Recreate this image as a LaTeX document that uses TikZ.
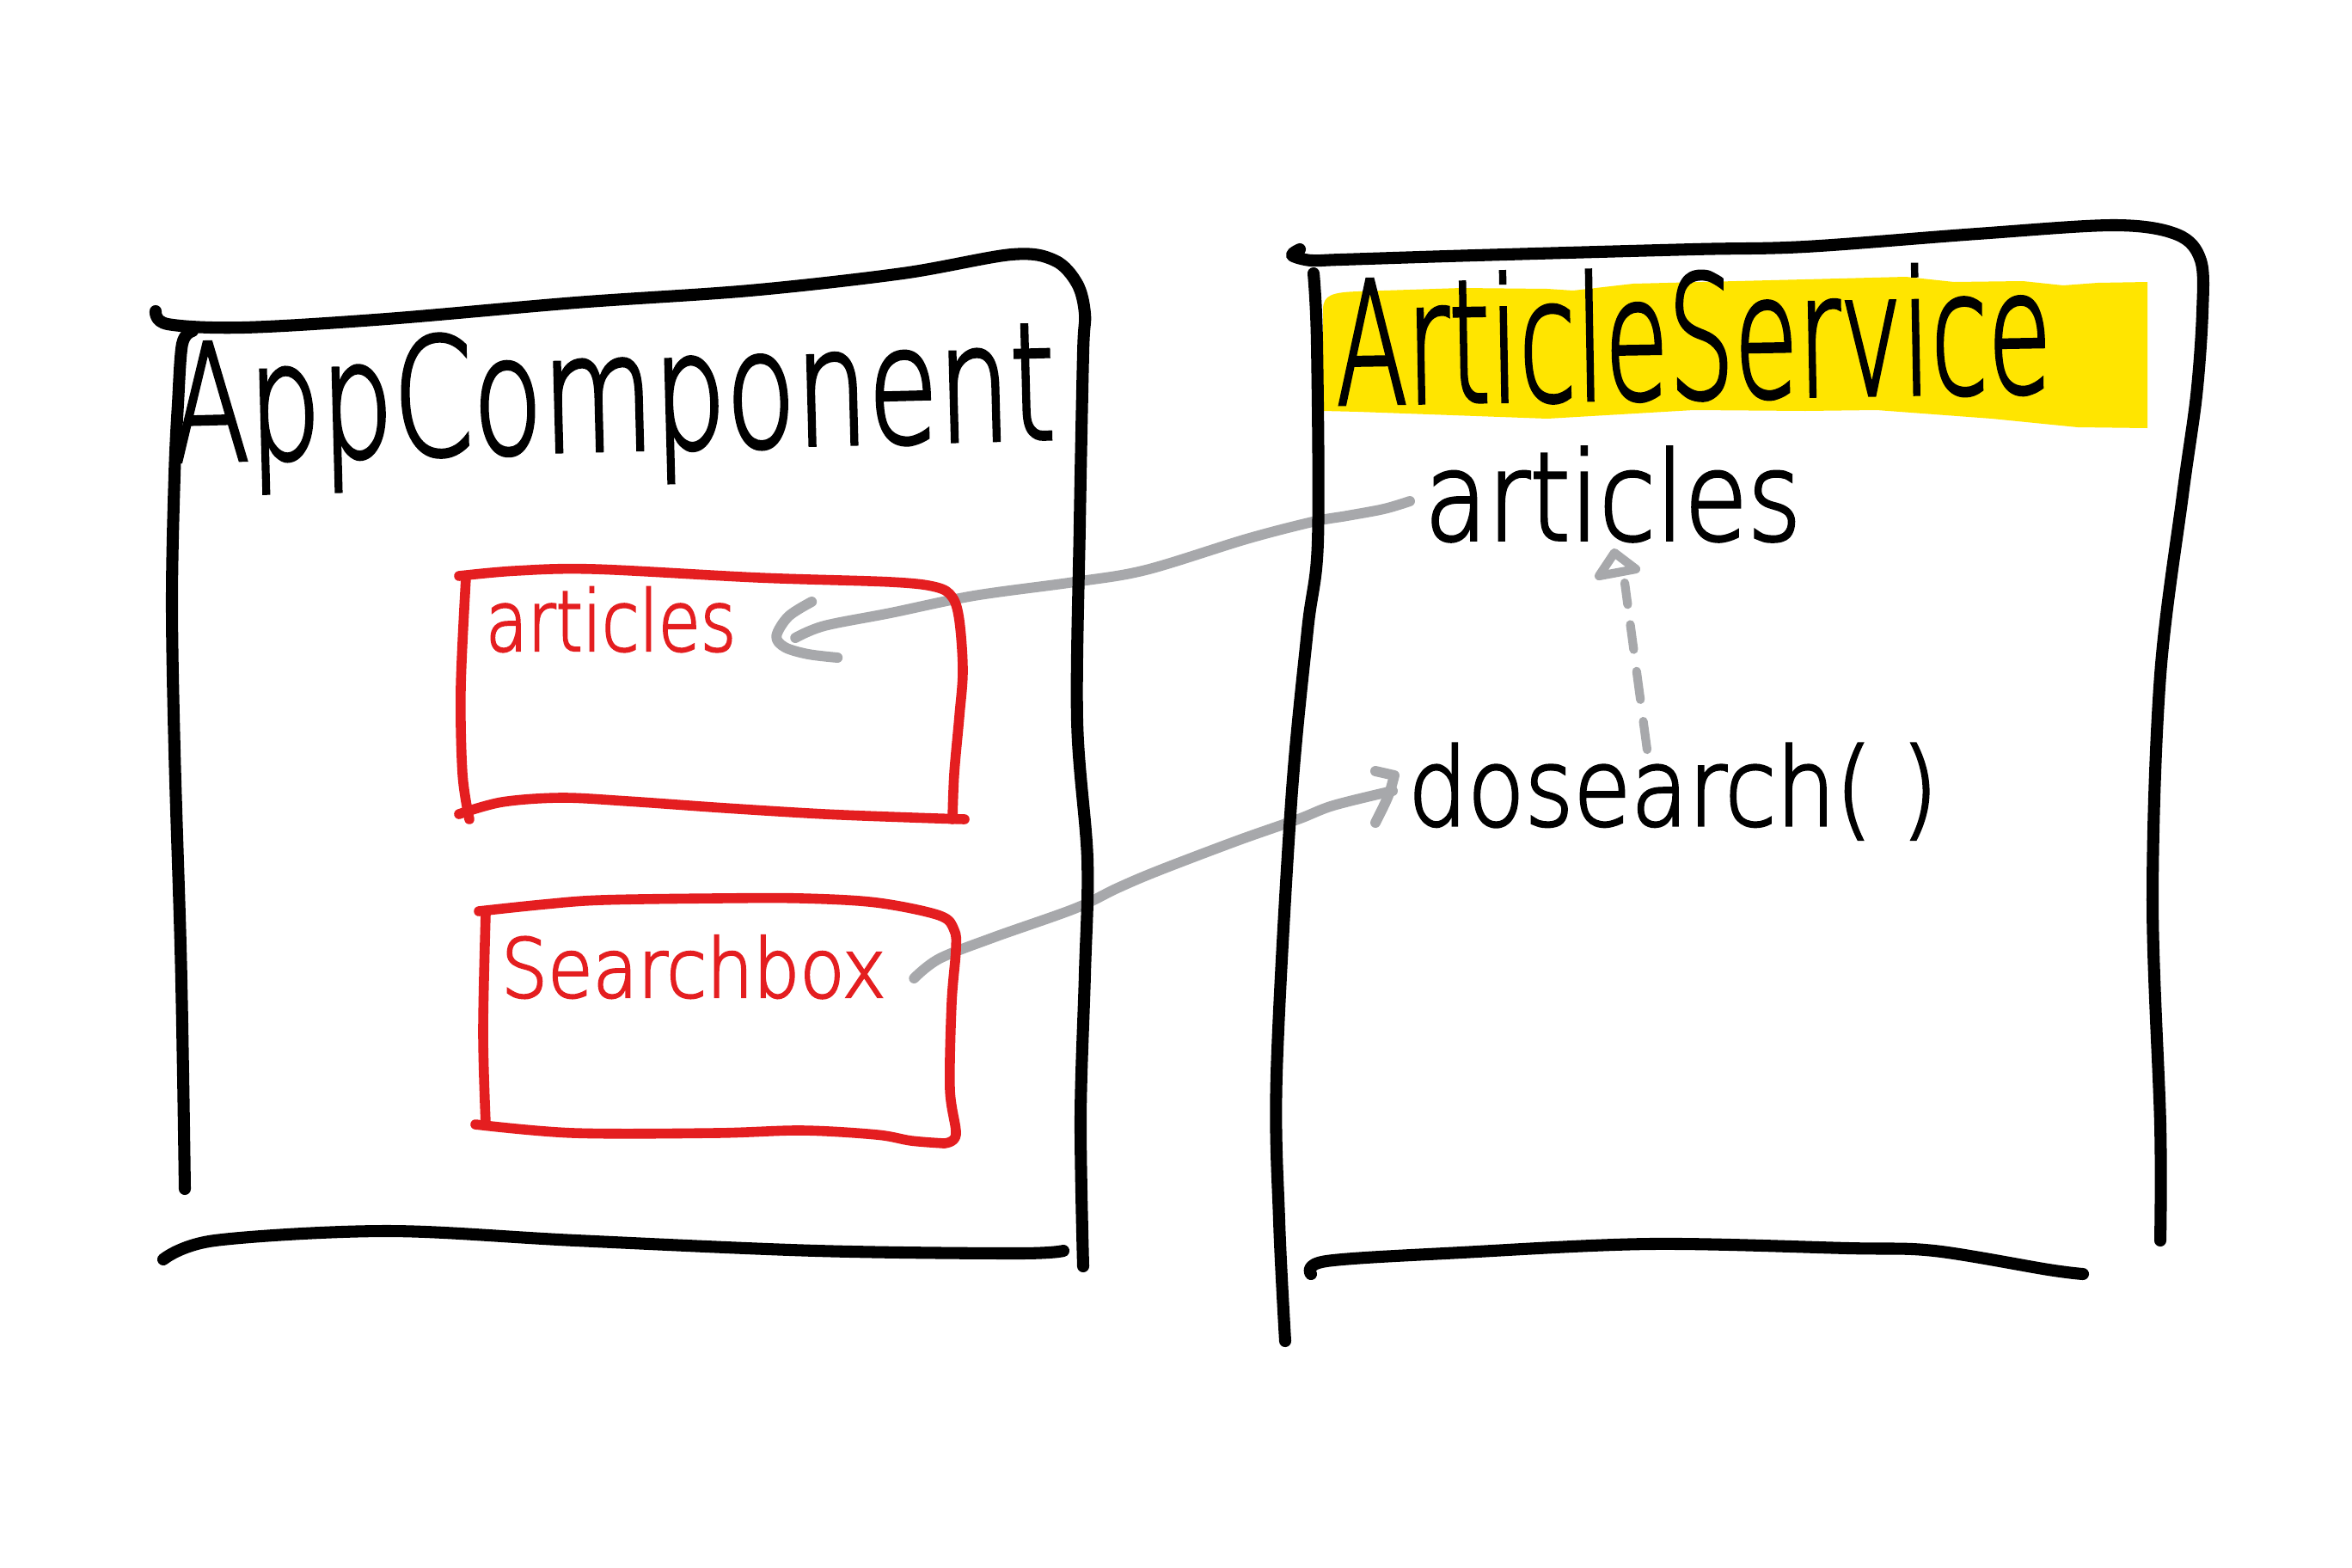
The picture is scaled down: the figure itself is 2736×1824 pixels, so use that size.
\documentclass[tikz,border=0pt]{standalone}
\usepackage{fontspec}
\usepackage{graphicx}
\newfontfamily\handfont[FakeBold=2.5]{DejaVu Sans ExtraLight}
\usetikzlibrary{calc}
\definecolor{inkred}{HTML}{E41E20}
\definecolor{inkgray}{HTML}{A7A8AB}
\definecolor{marker}{HTML}{FFE500}
\begin{document}
\begin{tikzpicture}[x=0.01cm,y=-0.01cm,
  ink/.style={line width=4pt,line cap=round,line join=round},
  redink/.style={line width=3.3pt,line cap=round,line join=round,draw=inkred},
  grayink/.style={line width=3.4pt,line cap=round,line join=round,draw=inkgray},
  dashink/.style={grayink,line width=2.9pt},
  txt/.style={inner sep=0pt,outer sep=0pt,anchor=base west,font=\handfont},
  sk/.style={smooth,tension=0.55}
]
\useasboundingbox[fill=white] (0,0) rectangle (2736,1824);

% marker highlight behind the service title
\fill[marker] (1539,360) .. controls (1539,343) and (1550,340) .. (1580,339)
  -- (1700,335) -- (1800,336) -- (1830,338) -- (1900,330) -- (2100,325)
  -- (2217,322) -- (2273,328) -- (2353,327) -- (2400,332) -- (2440,329)
  -- (2498,328) -- (2498,498) -- (2417,497) -- (2317,487) -- (2183,477)
  -- (2100,478) -- (1970,477) -- (1800,487) -- (1580,479) -- (1539,478) -- cycle;

% labels
\node[txt,rotate=1.5] (appc) at (200,537) {\resizebox{10.28cm}{1.40cm}{AppComponent}};
\node[txt,rotate=1] (svc) at (1555,470) {\resizebox{8.32cm}{1.50cm}{ArticleService}};
\node[txt] (props) at (1657,628) {\resizebox{4.38cm}{1.08cm}{articles}};
\node[txt] (dosearch) at (1638,960) {\resizebox{6.16cm}{0.95cm}{dosearch( )}};
\node[txt,text=inkred] (ra) at (565,757) {\resizebox{2.91cm}{0.74cm}{articles}};
\node[txt,text=inkred] (rs) at (583,1160) {\resizebox{4.47cm}{0.72cm}{Searchbox}};

% connector ends
\coordinate (a1s) at ($(props.base west)+(-17,-45)$);
\coordinate (a1e) at ($(ra.base east)+(69,-15)$);
\coordinate (a2s) at ($(rs.base east)+(33,-22)$);
\coordinate (a2e) at ($(dosearch.base west)+(-18,-40)$);
\coordinate (a3s) at ($(dosearch.base west)+(278,-88)$);
\coordinate (a3e) at ($(props.base west)+(233,50)$);

% service articles -> component articles
\draw[grayink] plot[sk] coordinates {(a1s) (1610,592) (1567,600) (1527,607)
  (1450,627) (1333,663) (1250,677) (1133,693) (1036,713) (959,728) (a1e)};
\draw[grayink] plot[sk] coordinates {($(a1e)+(19,-42)$) ($(a1e)+(-8,-25)$)
  ($(a1e)+(-22,-2)$) ($(a1e)+(-12,11)$) ($(a1e)+(15,19)$) ($(a1e)+(49,23)$)};

% searchbox -> dosearch
\draw[grayink] plot[sk] coordinates {(a2s) (1093,1115) (1157,1090) (1250,1057)
  (1300,1033) (1347,1013) (1439,978) (1510,953) (1551,937) (a2e)};
\draw[grayink] ($(a2e)+(-20,-23)$) -- ($(a2e)+(2,-18)$)
  .. controls ($(a2e)+(-4,5)$) .. ($(a2e)+(-20,37)$);

% dosearch updates articles
\draw[dashink] (a3s) -- ($(a3s)!0.17!(a3e)$);
\draw[dashink] ($(a3s)!0.30!(a3e)$) -- ($(a3s)!0.47!(a3e)$);
\draw[dashink] ($(a3s)!0.60!(a3e)$) -- ($(a3s)!0.75!(a3e)$);
\draw[dashink] ($(a3s)!0.87!(a3e)$) -- (a3e);
\draw[dashink] ($(a3e)+(-12,-35)$) -- ($(a3e)+(13,-16)$)
  -- ($(a3e)+(-30,-8)$) -- cycle;

% AppComponent frame
\draw[ink] plot[sk] coordinates {(181,362) (195,377) (283,381) (450,371) (670,352)
  (872,338) (1050,318) (1177,296) (1227,303) (1253,330) (1262,365) (1260,410)
  (1256,611) (1253,838) (1265,1000) (1262,1133) (1257,1300) (1260,1473)};
\draw[ink] plot[sk] coordinates {(224,385) (212,400) (207,470) (203,553) (200,700)
  (203,873) (210,1100) (213,1250) (215,1383)};
\draw[ink] plot[sk] coordinates {(190,1465) (250,1443) (450,1432) (670,1443)
  (950,1455) (1183,1458) (1237,1455)};

% ArticleService frame
\draw[ink] plot[sk] coordinates {(1512,290) (1503,297) (1525,303) (1560,302)
  (1717,297) (1970,290) (2100,287) (2300,272) (2460,262) (2533,273) (2560,303)
  (2562,363) (2555,460) (2539,576) (2513,785) (2504,1047) (2513,1309) (2513,1443)};
\draw[ink] plot[sk] coordinates {(1528,318) (1532,400) (1533,630) (1521,733)
  (1502,933) (1485,1250) (1488,1420) (1495,1560)};
\draw[ink] plot[sk] coordinates {(1525,1482) (1543,1467) (1700,1457) (1920,1447)
  (2150,1452) (2250,1455) (2383,1477) (2423,1482)};

% articles box
\draw[redink] plot[sk] coordinates {(534,670) (600,664) (691,662) (883,672)
  (1036,677) (1089,683) (1108,695) (1116,722) (1120,780) (1116,833) (1110,900)
  (1108,953)};
\draw[redink] plot[sk] coordinates {(542,672) (536,800) (538,900) (546,953)};
\draw[redink] plot[sk] coordinates {(534,947) (584,933) (653,928) (730,932)
  (844,940) (959,947) (1060,951) (1122,953)};

% Searchbox box
\draw[redink] plot[sk] coordinates {(557,1060) (633,1052) (700,1047) (833,1045)
  (933,1045) (1020,1050) (1093,1065) (1110,1082) (1112,1105) (1107,1167)
  (1105,1267) (1112,1320) (1098,1330)};
\draw[redink] plot[sk] coordinates {(565,1063) (562,1200) (565,1307)};
\draw[redink] plot[sk] coordinates {(553,1308) (667,1318) (833,1318) (933,1315)
  (1020,1320) (1060,1327) (1098,1330)};
\end{tikzpicture}
\end{document}
